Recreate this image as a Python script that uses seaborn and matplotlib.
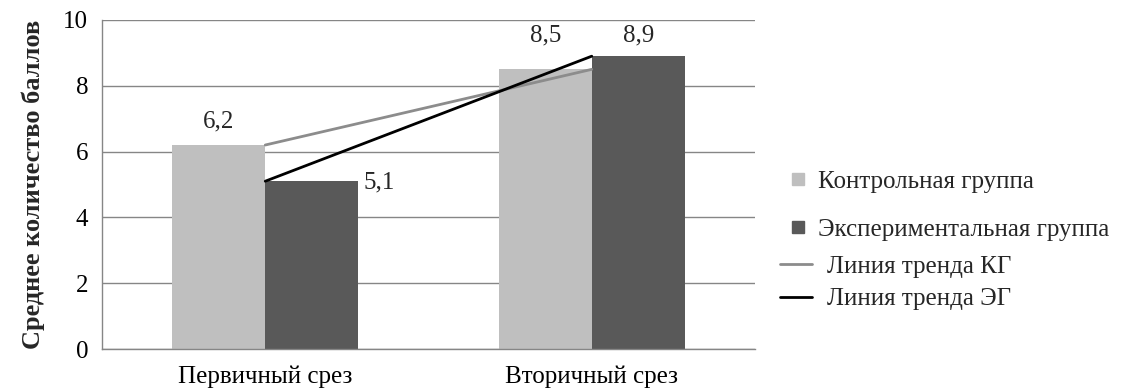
import matplotlib
matplotlib.use("Agg")
import matplotlib.pyplot as plt
import seaborn as sns
import pandas as pd
from matplotlib.lines import Line2D

categories = ["Первичный срез", "Вторичный срез"]
groups = ["Контрольная группа", "Экспериментальная группа"]
kg_values = [6.2, 8.5]
eg_values = [5.1, 8.9]
trend_labels = ["Линия тренда КГ", "Линия тренда ЭГ"]
y_label = "Среднее количество баллов"

df = pd.DataFrame({
    "cat": categories * 2,
    "group": [groups[0]] * len(categories) + [groups[1]] * len(categories),
    "value": kg_values + eg_values,
})

sns.set_theme(style="white")
plt.rcParams["font.family"] = ["Liberation Serif", "DejaVu Serif"]

bar_colors = ["#BFBFBF", "#595959"]
grid_color = "#868686"
FS = 18

fig = plt.figure(figsize=(11.35, 3.92), dpi=100)
ax = fig.add_axes([102 / 1135, 43 / 392, (755 - 102) / 1135, (349 - 20) / 392])

sns.barplot(data=df, x="cat", y="value", hue="group", order=categories,
            hue_order=groups, palette=bar_colors, width=0.57, saturation=1,
            ax=ax, legend=False, linewidth=0)

xs = list(range(len(categories)))
ax.plot(xs, kg_values, color="#8C8C8C", lw=2, zorder=5)
ax.plot(xs, eg_values, color="black", lw=2, zorder=5)

ax.set_xlim(-0.5, len(categories) - 0.5)
ax.set_ylim(0, 10)
ax.set_yticks([0, 2, 4, 6, 8, 10])
ax.yaxis.grid(True, color=grid_color, lw=1)
ax.set_axisbelow(True)
for s in ["top", "right"]:
    ax.spines[s].set_visible(False)
ax.spines["left"].set_color(grid_color)
ax.spines["bottom"].set_color(grid_color)
ax.spines["left"].set_linewidth(1)
ax.spines["bottom"].set_linewidth(1)
ax.tick_params(axis="both", length=0, labelsize=FS, colors="black")
ax.tick_params(axis="y", pad=10)
ax.tick_params(axis="x", pad=12)
ax.set_xlabel("")
ax.set_ylabel(y_label, fontsize=19, fontweight="bold", labelpad=13)

def fmt(v):
    return f"{v:.1f}".replace(".", ",")

bw = 0.57 / 2
ax.annotate(fmt(kg_values[0]), (xs[0] - bw / 2, kg_values[0]), xytext=(0, 17),
            textcoords="offset points", ha="center", va="center", fontsize=FS)
ax.annotate(fmt(eg_values[0]), (xs[0] + bw, eg_values[0]), xytext=(15, -1),
            textcoords="offset points", ha="center", va="center", fontsize=FS)
ax.annotate(fmt(kg_values[1]), (xs[1] - bw / 2, 9.54), xytext=(0, 0),
            textcoords="offset points", ha="center", va="center", fontsize=FS)
ax.annotate(fmt(eg_values[1]), (xs[1] + bw / 2, 9.54), xytext=(0, 0),
            textcoords="offset points", ha="center", va="center", fontsize=FS)

bar_handles = [
    Line2D([0], [0], marker="s", color=bar_colors[0], markersize=9, linestyle="none"),
    Line2D([0], [0], marker="s", color=bar_colors[1], markersize=9, linestyle="none"),
]
line_handles = [
    Line2D([0], [0], color="#8C8C8C", lw=2),
    Line2D([0], [0], color="black", lw=2),
]
leg1 = fig.legend(bar_handles, groups, loc="upper left",
                  bbox_to_anchor=(769 / 1135, 1 - 158 / 392), frameon=False,
                  fontsize=FS, handlelength=1.3, labelspacing=1.0,
                  handletextpad=0.15, borderpad=0)
leg2 = fig.legend(line_handles, trend_labels, loc="upper left",
                  bbox_to_anchor=(767 / 1135, 1 - 243 / 392), frameon=False,
                  fontsize=FS, handlelength=1.3, labelspacing=0.4,
                  handletextpad=0.6, borderpad=0)

fig.savefig("out.png", dpi=100)
